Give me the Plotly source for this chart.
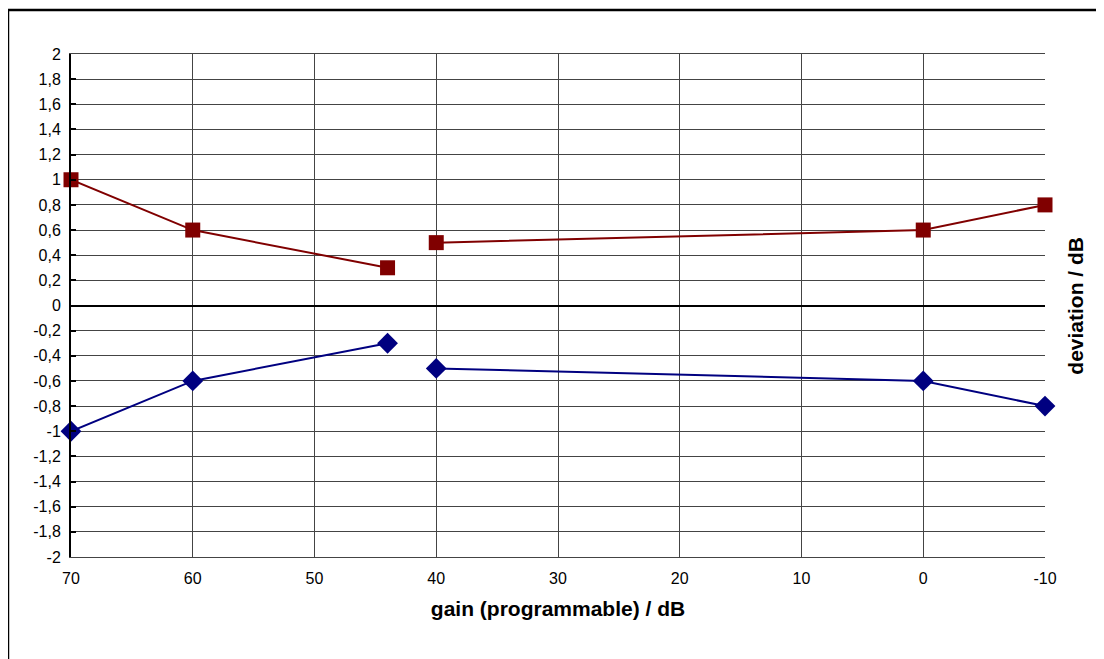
import plotly.graph_objects as go

# gain settings (None = break in the line)
gain = [70, 60, 44, None, 40, 0, -10]
upper_dev = [1.0, 0.6, 0.3, None, 0.5, 0.6, 0.8]
lower_dev = [-1.0, -0.6, -0.3, None, -0.5, -0.6, -0.8]

y_ticks = [round(-2 + 0.2 * i, 1) for i in range(21)]
y_labels = [("%g" % v).replace(".", ",") for v in y_ticks]
x_ticks = [70, 60, 50, 40, 30, 20, 10, 0, -10]
x_labels = [str(v) for v in x_ticks]

fig = go.Figure()
fig.add_trace(go.Scatter(
    x=gain, y=upper_dev, mode="lines+markers",
    line=dict(color="#800000", width=2),
    marker=dict(symbol="square", size=15, color="#800000"),
    connectgaps=False, showlegend=False, cliponaxis=False
))
fig.add_trace(go.Scatter(
    x=gain, y=lower_dev, mode="lines+markers",
    line=dict(color="#000080", width=2),
    marker=dict(symbol="diamond", size=16, color="#000080"),
    connectgaps=False, showlegend=False, cliponaxis=False
))

# page body adds an 8px offset, so the figure is a bit smaller
fig.update_layout(
    width=1096, height=651,
    margin=dict(l=63, r=59, t=46, b=102),
    paper_bgcolor="white", plot_bgcolor="white",
    font=dict(family="Liberation Sans, Arial", size=16, color="black"),
)
fig.update_xaxes(
    range=[70, -10], tickvals=x_ticks, ticktext=x_labels,
    tickfont=dict(size=16),
    showgrid=True, gridcolor="#444", gridwidth=1,
    showline=True, linecolor="#444", linewidth=1, mirror=True,
    zeroline=False, ticks="", ticklen=0, ticklabelstandoff=7,
    title=dict(text="<b>gain (programmable) / dB</b>", font=dict(size=21), standoff=15),
)
fig.update_yaxes(
    range=[-2, 2], tickvals=y_ticks, ticktext=y_labels,
    tickfont=dict(size=16),
    showgrid=True, gridcolor="#444", gridwidth=1,
    showline=True, linecolor="black", linewidth=2,
    zeroline=True, zerolinecolor="black", zerolinewidth=2,
    ticks="inside", ticklen=5, tickwidth=2, tickcolor="black",
    ticklabelstandoff=5,
)
fig.add_annotation(
    text="<b>deviation / dB</b>", xref="paper", yref="paper",
    x=1.031, y=0.5, textangle=-90, showarrow=False,
    font=dict(size=21), xanchor="center", yanchor="middle"
)
# outer chart border
fig.add_shape(
    type="rect", xref="paper", yref="paper",
    x0=-0.0647, x1=1.0544, y0=-0.25, y1=1.0875,
    line=dict(color="black", width=2.5), layer="below"
)

fig.write_html("out.html")
